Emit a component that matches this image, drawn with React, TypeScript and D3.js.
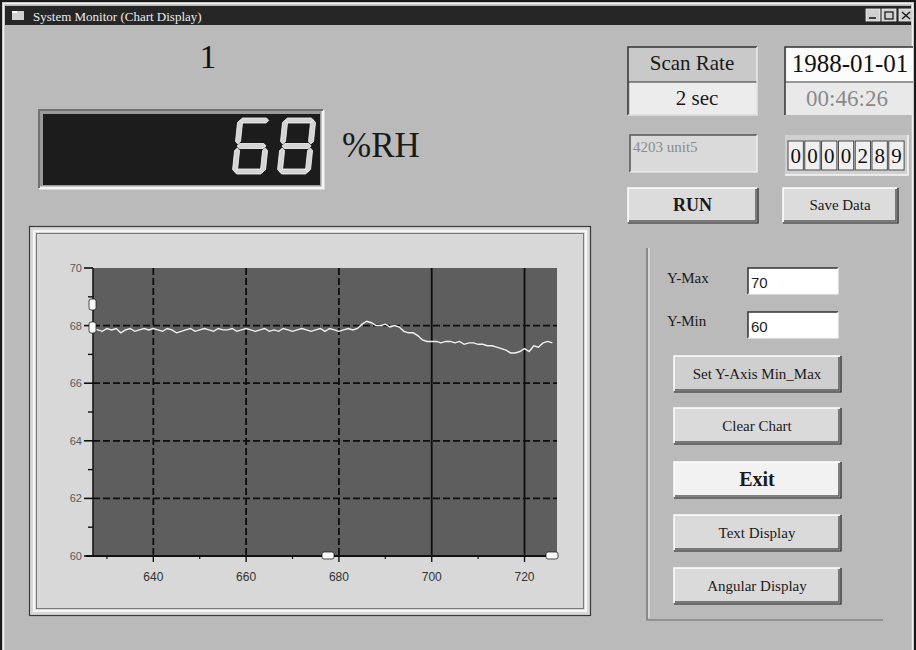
import React from "react";
import * as d3 from "d3";

// ---------- data ----------
const firstSample = 627;
const humidity = [
  67.9, 67.85, 67.8, 67.9, 67.85, 67.9, 67.75, 67.85, 67.9, 67.8, 67.85, 67.9, 67.85, 67.9,
  67.85, 67.8, 67.9, 67.85, 67.75, 67.8, 67.85, 67.9, 67.8, 67.85, 67.9, 67.85, 67.8, 67.9, 67.85, 67.85,
  67.9, 67.8, 67.85, 67.9, 67.85, 67.8, 67.85, 67.9, 67.8, 67.85, 67.8, 67.9, 67.85, 67.8, 67.85, 67.9,
  67.85, 67.8, 67.85, 67.9, 67.8, 67.9, 67.85, 67.8, 67.85, 67.9, 67.85, 67.9, 68.05, 68.15, 68.1, 68.0,
  68.0, 68.05, 67.95, 68.0, 67.95, 67.8, 67.75, 67.75, 67.65, 67.5, 67.45, 67.45, 67.45, 67.4, 67.45,
  67.45, 67.4, 67.45, 67.35, 67.4, 67.4, 67.35, 67.35, 67.3, 67.3, 67.25, 67.2, 67.15, 67.05, 67.05,
  67.1, 67.2, 67.1, 67.3, 67.25, 67.4, 67.45, 67.4,
];
const xDomain = [627, 727];
const yDomain = [60, 70];
const xTicks = [640, 660, 680, 700, 720];
const xMinorTicks = [630, 650, 670, 690, 710];
const yTicks = [60, 62, 64, 66, 68, 70];
const yMinorTicks = [61, 63, 65, 67, 69];
const gridY = [62, 64, 66, 68];

const titleText = "System Monitor (Chart Display)";
const channelNo = "1";
const ledValue = "68";
const unitText = "%RH";
const scanRateLabel = "Scan Rate";
const scanRateValue = "2 sec";
const dateText = "1988-01-01";
const timeText = "00:46:26";
const deviceText = "4203 unit5";
const counterDigits = ["0", "0", "0", "0", "2", "8", "9"];
const yMaxText = "70";
const yMinText = "60";
const rightButtons = ["Set Y-Axis Min_Max", "Clear Chart", "Exit", "Text Display", "Angular Display"];

// ---------- colours ----------
const C = {
  win: "#bababa",
  panel: "#d8d8d8",
  plot: "#5e5e5e",
  title: "#262626",
  led: "#1c1c1c",
  btn: "#dedede",
  dark: "#202020",
  shadow: "#5a5a5a",
};

const serif = "'Liberation Serif', 'DejaVu Serif', serif";
const sans = "'Liberation Sans', Arial, sans-serif";

// seven-segment map
const SEG: Record<string, string> = {
  "0": "abcdef", "1": "bc", "2": "abdeg", "3": "abcdg", "4": "bcfg",
  "5": "acdfg", "6": "acdefg", "7": "abc", "8": "abcdefg", "9": "abcdfg",
};

function hSeg(x0: number, y: number, L: number, t: number) {
  return [[x0, y], [x0 + t / 2, y - t / 2], [x0 + L - t / 2, y - t / 2], [x0 + L, y], [x0 + L - t / 2, y + t / 2], [x0 + t / 2, y + t / 2]]
    .map((p) => p.join(",")).join(" ");
}
function vSeg(x: number, y0: number, L: number, t: number) {
  return [[x, y0], [x + t / 2, y0 + t / 2], [x + t / 2, y0 + L - t / 2], [x, y0 + L], [x - t / 2, y0 + L - t / 2], [x - t / 2, y0 + t / 2]]
    .map((p) => p.join(",")).join(" ");
}

function Digit({ ch, x, y }: { ch: string; x: number; y: number }) {
  const W = 33, H = 56, t = 5;
  const on = SEG[ch] || "";
  const segs: Record<string, string> = {
    a: hSeg(2, t / 2, W - 4, t),
    g: hSeg(2, H / 2, W - 4, t),
    d: hSeg(2, H - t / 2, W - 4, t),
    f: vSeg(t / 2, 2, H / 2 - 4, t),
    b: vSeg(W - t / 2, 2, H / 2 - 4, t),
    e: vSeg(t / 2, H / 2 + 2, H / 2 - 4, t),
    c: vSeg(W - t / 2, H / 2 + 2, H / 2 - 4, t),
  };
  return (
    <g transform={`translate(${x},${y}) skewX(-6)`}>
      {Object.keys(segs).map((k) => (
        <polygon key={k} points={segs[k]} fill={on.includes(k) ? "#d4d4d4" : "none"} stroke={on.includes(k) ? "#f4f4f4" : "none"} strokeWidth={0.8} />
      ))}
    </g>
  );
}

function Button({ x, y, w, h, label, fs, bold, fill }: { x: number; y: number; w: number; h: number; label: string; fs: number; bold?: boolean; fill?: string }) {
  return (
    <g>
      <rect x={x} y={y} width={w} height={h} fill={fill || C.btn} />
      <path d={`M${x},${y + h} V${y} H${x + w}`} fill="none" stroke="#ffffff" strokeWidth={1.5} />
      <path d={`M${x + 1},${y + h - 1} H${x + w - 1} V${y + 1}`} fill="none" stroke={C.shadow} strokeWidth={1.5} />
      <path d={`M${x},${y + h + 1} H${x + w + 1} V${y}`} fill="none" stroke={C.dark} strokeWidth={1.2} />
      <text x={x + w / 2} y={y + h / 2 + fs * 0.34} textAnchor="middle" fontFamily={serif} fontSize={fs} fontWeight={bold ? "bold" : "normal"} fill="#1a1a1a">
        {label}
      </text>
    </g>
  );
}

function Sunken({ x, y, w, h, fill }: { x: number; y: number; w: number; h: number; fill: string }) {
  return (
    <g>
      <rect x={x} y={y} width={w} height={h} fill={fill} />
      <path d={`M${x},${y + h} V${y} H${x + w}`} fill="none" stroke="#333" strokeWidth={1.5} />
      <path d={`M${x},${y + h} H${x + w} V${y}`} fill="none" stroke="#f8f8f8" strokeWidth={1.2} />
    </g>
  );
}

export default function App() {
  const plot = { l: 93, r: 557, t: 268, b: 556 };
  const x = d3.scaleLinear().domain(xDomain).range([plot.l, plot.r]);
  const y = d3.scaleLinear().domain(yDomain).range([plot.b, plot.t]);
  const line = d3
    .line<number>()
    .x((_, i) => x(firstSample + i))
    .y((d) => y(d))
    .curve(d3.curveLinear);

  const cellW = 16.8;
  return (
    <div style={{ position: "fixed", left: 0, top: 0 }}>
      <svg width={916} height={650} viewBox="0 0 916 650" style={{ display: "block" }}>
        {/* window */}
        <rect x={0} y={0} width={916} height={650} fill={C.win} />
        <path d="M1,650 V1 H915 V650" fill="none" stroke="#1a1a1a" strokeWidth={2} />
        <path d="M3.5,650 V3.5 H912.5 V650" fill="none" stroke="#f2f2f2" strokeWidth={1.5} />
        {/* title bar */}
        <rect x={5} y={6} width={906} height={19} fill={C.title} />
        <rect x={12} y={11} width={12} height={9} fill="#d0d0d0" />
        <rect x={12} y={11} width={5} height={2} fill="#ffffff" />
        <text x={33} y={21} fontFamily={serif} fontSize={13} fill="#ececec">{titleText}</text>
        {[866, 882, 899].map((bx, i) => (
          <g key={i}>
            <rect x={bx} y={9} width={14} height={12} fill="#cfcfcf" stroke="#f0f0f0" strokeWidth={0.8} />
            {i === 0 && <line x1={bx + 3} x2={bx + 10} y1={18} y2={18} stroke="#111" strokeWidth={1.5} />}
            {i === 1 && <rect x={bx + 3} y={12} width={8} height={7} fill="none" stroke="#111" strokeWidth={1.2} />}
            {i === 2 && <path d={`M${bx + 3},${12} L${bx + 11},${19} M${bx + 11},${12} L${bx + 3},${19}`} stroke="#111" strokeWidth={1.3} />}
          </g>
        ))}

        {/* channel number */}
        <text x={208} y={68} textAnchor="middle" fontFamily={serif} fontSize={33} fill="#111">{channelNo}</text>

        {/* LED display */}
        <rect x={39} y={110} width={284} height={78} fill="#9a9a9a" />
        <path d="M39,188 H323 V110" fill="none" stroke="#f4f4f4" strokeWidth={3} />
        <path d="M39,188 V110 H323" fill="none" stroke="#707070" strokeWidth={2} />
        <rect x={43} y={114} width={277} height={71} fill={C.led} />
        {ledValue.split("").map((ch, i) => (
          <Digit key={i} ch={ch} x={238 + i * 45} y={118} />
        ))}
        <text x={342} y={157} fontFamily={serif} fontSize={35} fill="#1a1a1a">{unitText}</text>

        {/* scan rate */}
        <rect x={628} y={47} width={129} height={68} fill="#c9c9c9" />
        <rect x={630} y={82} width={126} height={32} fill="#ececec" />
        <path d="M628,115 V47 H757" fill="none" stroke="#333" strokeWidth={1.5} />
        <path d="M628,82 H757" stroke="#333" strokeWidth={1.2} />
        <path d="M628,115 H757 V47" fill="none" stroke="#f4f4f4" strokeWidth={1.2} />
        <text x={692} y={70} textAnchor="middle" fontFamily={serif} fontSize={21} fill="#1a1a1a">{scanRateLabel}</text>
        <text x={697} y={105} textAnchor="middle" fontFamily={serif} fontSize={21} fill="#1a1a1a">{scanRateValue}</text>

        {/* date / time */}
        <rect x={785} y={47} width={128} height={68} fill="#e9e9e9" />
        <rect x={787} y={48} width={126} height={33} fill="#fcfcfc" />
        <path d="M785,115 V47 H913" fill="none" stroke="#333" strokeWidth={1.5} />
        <path d="M785,82 H913" stroke="#444" strokeWidth={1} />
        <text x={850} y={72} textAnchor="middle" fontFamily={serif} fontSize={25} fill="#111">{dateText}</text>
        <text x={847} y={106} textAnchor="middle" fontFamily={serif} fontSize={23} fill="#8a8a8a">{timeText}</text>

        {/* device text box */}
        <rect x={630} y={135} width={127} height={37} fill="#dadada" />
        <path d="M630,172 V135 H757" fill="none" stroke="#555" strokeWidth={1.5} />
        <path d="M630,172 H757 V135" fill="none" stroke="#f8f8f8" strokeWidth={1.2} />
        <text x={633} y={152} fontFamily={serif} fontSize={15} fill="#8c8c8c">{deviceText}</text>

        {/* counter */}
        <rect x={785} y={135} width={123} height={40} fill="#d0d0d0" />
        <path d="M785,175 H908 V135" fill="none" stroke="#f8f8f8" strokeWidth={1.5} />
        {counterDigits.map((d, i) => (
          <g key={i}>
            <rect x={788 + i * cellW} y={141} width={cellW - 1.5} height={29} fill="#f0f0f0" stroke="#3a3a3a" strokeWidth={0.9} />
            <text x={788 + i * cellW + (cellW - 1.5) / 2} y={163} textAnchor="middle" fontFamily={serif} fontSize={21} fill="#111">{d}</text>
          </g>
        ))}

        {/* RUN / save */}
        <Button x={628} y={188} w={129} h={34} label="RUN" fs={18} bold fill="#dcdcdc" />
        <Button x={783} y={188} w={114} h={34} label="Save Data" fs={15} fill="#dcdcdc" />

        {/* chart panel */}
        <rect x={29} y={226} width={562} height={390} fill={C.panel} />
        <rect x={29.5} y={226.5} width={561} height={389} fill="none" stroke="#3a3a3a" strokeWidth={1.2} />
        <rect x={34} y={231} width={552} height={380} fill="none" stroke="#f6f6f6" strokeWidth={2} />
        <rect x={36.5} y={233.5} width={547} height={375} fill="none" stroke="#7a7a7a" strokeWidth={1} />

        {/* plot */}
        <rect x={plot.l} y={plot.t} width={plot.r - plot.l} height={plot.b - plot.t} fill={C.plot} />
        {gridY.map((v) => (
          <line key={"gy" + v} x1={plot.l} x2={plot.r} y1={y(v)} y2={y(v)} stroke="#0e0e0e" strokeWidth={1.8} strokeDasharray="7,3" />
        ))}
        {xTicks.map((v) => (
          <line key={"gx" + v} x1={x(v)} x2={x(v)} y1={plot.t} y2={plot.b} stroke="#0e0e0e" strokeWidth={1.8} strokeDasharray={v >= 700 ? "none" : "7,3"} />
        ))}
        <path d={line(humidity) || ""} fill="none" stroke="#f2f2f2" strokeWidth={1.4} />

        {/* axes */}
        <line x1={plot.l} x2={plot.l} y1={plot.t} y2={plot.b} stroke="#111" strokeWidth={1.5} />
        <line x1={plot.l - 7} x2={plot.r} y1={plot.b} y2={plot.b} stroke="#111" strokeWidth={1.8} />
        {yTicks.map((v) => (
          <g key={"yt" + v}>
            <line x1={plot.l - 9} x2={plot.l} y1={y(v)} y2={y(v)} stroke="#111" strokeWidth={1.6} />
            <text x={plot.l - 11} y={y(v) + 4} textAnchor="end" fontFamily={sans} fontSize={11} fill="#5a5a5a">{v}</text>
          </g>
        ))}
        {yMinorTicks.map((v) => (
          <line key={"ym" + v} x1={plot.l - 5} x2={plot.l} y1={y(v)} y2={y(v)} stroke="#111" strokeWidth={1.4} />
        ))}
        {xTicks.map((v) => (
          <g key={"xt" + v}>
            <line x1={x(v)} x2={x(v)} y1={plot.b} y2={plot.b + 6} stroke="#111" strokeWidth={1.4} />
            <text x={x(v)} y={plot.b + 25} textAnchor="middle" fontFamily={sans} fontSize={12} fill="#333">{v}</text>
          </g>
        ))}
        {xMinorTicks.map((v) => (
          <line key={"xm" + v} x1={x(v)} x2={x(v)} y1={plot.b} y2={plot.b + 3} stroke="#111" strokeWidth={1.2} />
        ))}
        {/* scroll handles */}
        <rect x={89} y={299} width={7} height={11} rx={2} fill="#fafafa" stroke="#222" strokeWidth={0.8} />
        <rect x={89} y={322} width={7} height={11} rx={2} fill="#fafafa" stroke="#222" strokeWidth={0.8} />
        <rect x={322} y={552} width={12} height={7} rx={2} fill="#fafafa" stroke="#222" strokeWidth={0.8} />
        <rect x={546} y={552} width={12} height={7} rx={2} fill="#fafafa" stroke="#222" strokeWidth={0.8} />

        {/* right control panel */}
        <path d="M647,248 V620 H883" fill="none" stroke="#6a6a6a" strokeWidth={1.2} />
        <path d="M649,248 V618" fill="none" stroke="#f0f0f0" strokeWidth={1} />
        <text x={667} y={283} fontFamily={serif} fontSize={15} fill="#1a1a1a">Y-Max</text>
        <text x={667} y={326} fontFamily={serif} fontSize={15} fill="#1a1a1a">Y-Min</text>
        <Sunken x={748} y={268} w={90} h={26} fill="#ffffff" />
        <Sunken x={748} y={312} w={90} h={26} fill="#ffffff" />
        <text x={751} y={288} fontFamily={sans} fontSize={15} fill="#222">{yMaxText}</text>
        <text x={751} y={332} fontFamily={sans} fontSize={15} fill="#222">{yMinText}</text>
        {rightButtons.map((lab, i) => {
          const tops = [356, 408, 462, 515, 568];
          const isExit = lab === "Exit";
          return (
            <Button key={lab} x={674} y={tops[i]} w={166} h={35} label={lab} fs={isExit ? 20 : 15} bold={isExit} fill={isExit ? "#f2f2f2" : i === 0 ? "#cfcfcf" : "#dadada"} />
          );
        })}
      </svg>
    </div>
  );
}
